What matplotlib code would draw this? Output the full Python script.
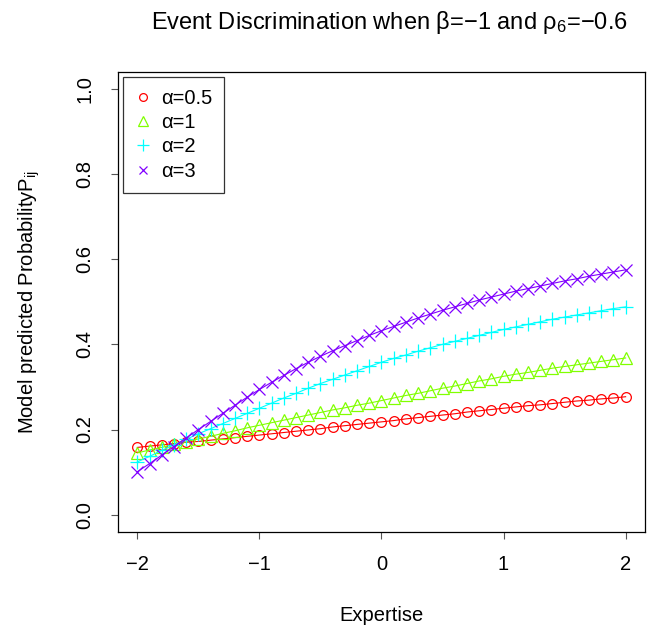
import matplotlib
matplotlib.use("Agg")
import matplotlib.pyplot as plt
import numpy as np

plt.rcParams["font.family"] = ["Liberation Sans", "DejaVu Sans"]
plt.rcParams["mathtext.fontset"] = "custom"
plt.rcParams["mathtext.rm"] = "Liberation Sans"
plt.rcParams["mathtext.it"] = "Liberation Sans"

# ── data ─────────────────────────────────────────────────────────────
expertise = np.round(np.arange(-2.0, 2.01, 0.1), 1)

p_alpha_05 = [0.158, 0.161, 0.164, 0.167, 0.170, 0.172, 0.175, 0.178, 0.181, 0.184,
              0.187, 0.190, 0.193, 0.196, 0.199, 0.202, 0.206, 0.209, 0.212, 0.215,
              0.218, 0.221, 0.225, 0.228, 0.231, 0.234, 0.237, 0.241, 0.244, 0.247,
              0.250, 0.253, 0.256, 0.258, 0.261, 0.264, 0.267, 0.269, 0.272, 0.274,
              0.277]
p_alpha_1 = [0.145, 0.152, 0.158, 0.165, 0.171, 0.178, 0.184, 0.191, 0.197, 0.204,
             0.210, 0.216, 0.222, 0.228, 0.234, 0.240, 0.246, 0.251, 0.257, 0.262,
             0.268, 0.274, 0.280, 0.285, 0.291, 0.297, 0.302, 0.308, 0.314, 0.319,
             0.325, 0.330, 0.334, 0.339, 0.344, 0.348, 0.352, 0.356, 0.360, 0.364,
             0.368]
p_alpha_2 = [0.124, 0.137, 0.151, 0.164, 0.177, 0.190, 0.202, 0.214, 0.226, 0.238,
             0.250, 0.262, 0.274, 0.285, 0.297, 0.308, 0.318, 0.328, 0.338, 0.348,
             0.358, 0.367, 0.375, 0.384, 0.392, 0.400, 0.407, 0.414, 0.421, 0.428,
             0.435, 0.441, 0.447, 0.453, 0.459, 0.464, 0.469, 0.474, 0.479, 0.484,
             0.488]
p_alpha_3 = [0.101, 0.120, 0.140, 0.160, 0.180, 0.200, 0.219, 0.238, 0.257, 0.276,
             0.294, 0.311, 0.327, 0.343, 0.358, 0.372, 0.385, 0.397, 0.409, 0.421,
             0.432, 0.442, 0.452, 0.462, 0.471, 0.480, 0.488, 0.496, 0.504, 0.511,
             0.518, 0.525, 0.531, 0.537, 0.543, 0.549, 0.554, 0.560, 0.565, 0.570,
             0.575]

labels = ["α=0.5", "α=1", "α=2", "α=3"]
series = [p_alpha_05, p_alpha_1, p_alpha_2, p_alpha_3]
colors = ["#FF0000", "#80FF00", "#00FFFF", "#8000FF"]
markers = ["o", "^", "+", "x"]
sizes = [7, 8.5, 10, 8]

fig = plt.figure(figsize=(6.51, 6.30), dpi=100)
ax = fig.add_axes([0.181, 0.156, 0.810, 0.730])

for vals, lab, col, mk, ms in zip(series, labels, colors, markers, sizes):
    ax.plot(expertise, vals, color=col, linewidth=0.8, marker=mk, markersize=ms,
            markerfacecolor="none", markeredgecolor=col, markeredgewidth=0.9, label=lab)

ax.set_xlim(-2.16, 2.16)
ax.set_ylim(-0.04, 1.04)
ax.set_xticks([-2, -1, 0, 1, 2])
ax.set_xticklabels(["\u22122", "\u22121", "0", "1", "2"])
ax.set_yticks([0.0, 0.2, 0.4, 0.6, 0.8, 1.0])
ax.set_yticklabels(["0.0", "0.2", "0.4", "0.6", "0.8", "1.0"], rotation=90, va="center")
ax.tick_params(axis="both", direction="out", length=5, width=0.8, labelsize=14.5,
               color="#555555")
ax.tick_params(axis="x", pad=12)
ax.tick_params(axis="y", pad=12)
for sp in ax.spines.values():
    sp.set_linewidth(0.9)

ax.set_xlabel("Expertise", fontsize=14.5, labelpad=23)
ax.set_ylabel(r"Model predicted Probability$\mathrm{P_{ij}}$", fontsize=14.5, labelpad=24)
fig.suptitle(r"Event Discrimination when β=−1 and $\mathrm{\rho_6}$=−0.6",
             fontsize=17, x=0.598, y=0.985)

leg = ax.legend(loc="upper left", fontsize=14.5, frameon=True, fancybox=False,
                handlelength=0.8, handletextpad=0.5, labelspacing=0.26,
                borderpad=0.6, borderaxespad=0.25, markerscale=0.8)
leg.get_frame().set_edgecolor("black")
leg.get_frame().set_linewidth(0.9)
for line in leg.get_lines():
    line.set_linestyle("none")

fig.savefig("out.png", dpi=100)
